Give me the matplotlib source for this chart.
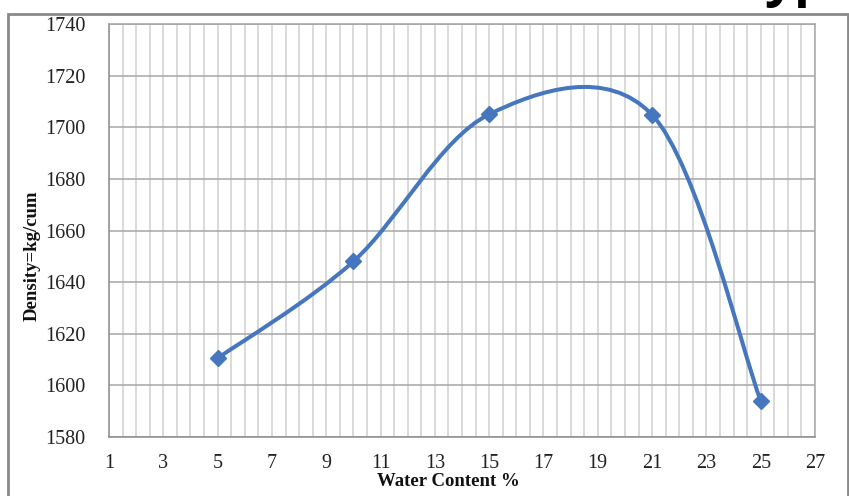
import numpy as np
import matplotlib
matplotlib.use("Agg")
import matplotlib.pyplot as plt
from matplotlib.path import Path
from matplotlib.patches import PathPatch, Rectangle
from matplotlib.ticker import MultipleLocator

# Proctor compaction results
water_content = [5, 10, 15, 21, 25]
density = [1610.5, 1648, 1705, 1704.8, 1594]

x_ticks = [1, 3, 5, 7, 9, 11, 13, 15, 17, 19, 21, 23, 25, 27]
y_ticks = [1580, 1600, 1620, 1640, 1660, 1680, 1700, 1720, 1740]

W, H = 849, 496
fig = plt.figure(figsize=(W / 100, H / 100), dpi=100)
ax = fig.add_axes([109 / W, 59 / H, 706 / W, 413 / H])

line_color = "#4677BE"
serif = ["Liberation Serif", "DejaVu Serif"]


def smooth_path(xs, ys):
    """Cubic Bezier through the points, Catmull-Rom style tangents."""
    pts = np.column_stack([xs, ys]).astype(float)
    n = len(pts)
    verts = [pts[0]]
    codes = [Path.MOVETO]
    for i in range(n - 1):
        p_prev = pts[i - 1] if i > 0 else pts[i]
        p0, p1 = pts[i], pts[i + 1]
        p_next = pts[i + 2] if i + 2 < n else pts[i + 1]
        c1 = p0 + (p1 - p_prev) / 6.0
        c2 = p1 - (p_next - p0) / 6.0
        verts += [c1, c2, p1]
        codes += [Path.CURVE4] * 3
    return Path(verts, codes)


ax.add_patch(PathPatch(smooth_path(water_content, density), facecolor="none",
                       edgecolor=line_color, lw=2.9, zorder=3,
                       capstyle="round", joinstyle="round"))
ax.plot(water_content, density, linestyle="none", marker="D", markersize=8.5,
        color=line_color, zorder=4)

ax.set_xlim(1, 27)
ax.set_ylim(1580, 1740)
ax.set_xticks(x_ticks)
ax.set_yticks(y_ticks)
ax.xaxis.set_minor_locator(MultipleLocator(0.5))

ax.grid(True, which="major", axis="y", color="#A6A6A6", lw=1.1, zorder=0)
ax.grid(True, which="both", axis="x", color="#CFCFCF", lw=1.1, zorder=0)
ax.set_axisbelow(True)
for s in ax.spines.values():
    s.set_color("#A6A6A6")
    s.set_linewidth(1.1)
ax.spines["left"].set_color("#8C8C8C")
ax.spines["bottom"].set_color("#8C8C8C")

ax.tick_params(which="both", length=0)
ax.tick_params(axis="y", pad=17)
ax.tick_params(axis="x", pad=12)
for lab in ax.get_xticklabels() + ax.get_yticklabels():
    lab.set_fontfamily(serif)
    lab.set_fontsize(14.5)
    lab.set_color("#222222")

fig.text(448 / W, 1 - 482 / H, "Water Content %", ha="center", va="center",
         fontsize=13.5, fontweight="bold", family=serif, color="#111111")
fig.text(32 / W, 1 - 256 / H, "Density=kg/cum", ha="center", va="center",
         rotation=90, fontsize=13.5, fontweight="bold", family=serif,
         color="#111111")

# chart frame
fig.patches.append(Rectangle((8 / W, -0.05), (848 - 8) / W, (496 - 14) / H + 0.05,
                             transform=fig.transFigure, facecolor="none",
                             edgecolor="#8A8A8A", lw=2.0))

# heading text running off the top edge: only its descenders reach the chart
fig.text(764 / W, 1 + 5 / H, "yp", ha="left", va="baseline", fontsize=38,
         fontweight="bold", family=["Open Sans", "DejaVu Sans"], color="black")

fig.savefig("out.png", dpi=100)
